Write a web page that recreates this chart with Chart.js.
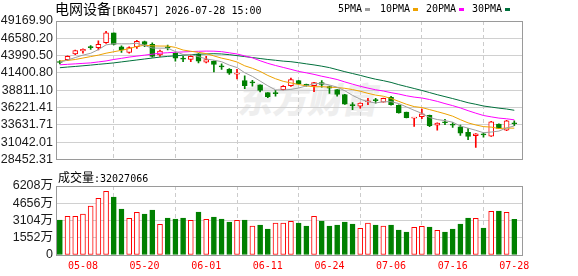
<!DOCTYPE html>
<html><head><meta charset="utf-8">
<script src="https://cdn.jsdelivr.net/npm/chart.js@4.4.1/dist/chart.umd.min.js"></script>
<style>
html,body{margin:0;padding:0;background:#fff;width:578px;height:276px;overflow:hidden;position:relative;}
canvas{position:absolute;left:0;}
.t{position:absolute;white-space:nowrap;color:#000;line-height:14px;}
.cjk{font-family:"Noto Sans CJK SC",sans-serif;}
.mono{font-family:"DejaVu Sans Mono",monospace;}
.sq{position:absolute;width:5px;height:3px;}
#wm{position:absolute;left:240px;top:72px;font-family:"Noto Sans CJK SC",sans-serif;font-weight:900;font-size:35px;color:#eeeeee;transform:skewX(-12deg);white-space:nowrap;}
</style></head><body>
<div id="wm">东方财富</div>
<canvas id="pc" width="578" height="170" style="top:0"></canvas>
<canvas id="vc" width="578" height="104" style="top:172px"></canvas>
<div class="t" style="left:55px;top:1px"><span class="cjk" style="font-size:14px">电网设备</span><span class="mono" style="font-size:10px">[BK0457] 2026-07-28 15:00</span></div>
<div class="t mono" style="left:338px;top:2px;font-size:10px">5PMA</div><div class="sq" style="left:365px;top:8px;background:#9e9e9e"></div>
<div class="t mono" style="left:380px;top:2px;font-size:10px">10PMA</div><div class="sq" style="left:413px;top:8px;background:#eea200"></div>
<div class="t mono" style="left:426px;top:2px;font-size:10px">20PMA</div><div class="sq" style="left:459px;top:8px;background:#ff00ff"></div>
<div class="t mono" style="left:472px;top:2px;font-size:10px">30PMA</div><div class="sq" style="left:505px;top:8px;background:#00703c"></div>
<div class="t" style="left:58px;top:170px"><span class="cjk" style="font-size:12px">成交量</span><span class="mono" style="font-size:10px">:32027066</span></div>
<script>
const dates = ['04-30','05-06','05-07','05-08','05-11','05-12','05-13','05-14','05-15','05-18','05-19','05-20','05-21','05-22','05-25','05-26','05-27','05-28','05-29','06-01','06-02','06-03','06-04','06-05','06-08','06-09','06-10','06-11','06-12','06-15','06-16','06-17','06-18','06-22','06-23','06-24','06-25','06-26','06-29','06-30','07-01','07-02','07-03','07-06','07-07','07-08','07-09','07-10','07-13','07-14','07-15','07-16','07-17','07-20','07-21','07-22','07-23','07-24','07-27','07-28'];
const open  = [43050,43383,44251,44685,45249,45177,45943,47390,45321,44453,45321,46088,45698,44106,45206,44352,43513,43440,44208,43007,43151,42355,41936,41213,40258,39968,39621,38464,38391,38898,39505,40258,39679,39505,39968,39361,38898,38174,36568,36423,37075,37407,37046,37740,36540,35527,34630,34847,35049,33603,34007,33632,33356,32531,32010,32185,31953,33747,32821,33863];
const high  = [43238,43962,44829,45003,45509,46190,47607,47390,45466,45321,46276,46160,45900,44829,45553,44424,43875,43962,44280,43875,43194,42761,42037,41936,40981,40301,39621,38464,38811,39505,40634,40301,39722,40011,40258,39433,38927,38203,36973,36930,37595,37595,37653,37914,36612,35527,34731,36004,35093,33935,34470,33978,33602,33110,32344,32445,34152,33791,34297,34224];
const low   = [42761,43238,44135,44352,44931,44829,45799,45582,44453,44352,45075,45321,43773,43875,44829,43151,43093,43093,42905,42905,41559,41936,41169,40489,39042,39433,38564,37696,37943,38854,39390,39722,39433,38608,39288,38319,37943,36684,35917,36148,36640,36872,37017,36582,35382,34659,33400,34557,33357,32821,33646,33255,32054,31432,30275,31808,31910,33066,32778,33501];
const close = [42963,43875,44742,44931,45191,45698,47390,45654,44829,45177,46132,45654,43875,44685,45148,43628,43455,43875,43151,43383,42659,42298,41357,41357,39505,39911,38782,37841,38304,39390,40402,39766,39462,39968,39679,39115,38174,36727,36510,36901,37147,37263,37595,36640,35426,34702,34731,35281,33501,33892,33949,33574,32387,31910,32300,32127,34080,33110,34224,33805];
const ma5  = [43007,43339,43701,44063,44338,44887,45597,45770,45755,45755,45842,45495,45133,45104,45104,44598,44164,44164,43846,43499,43310,43079,42572,42211,41429,40880,40185,39476,38868,38840,38941,39144,39462,39795,39853,39592,39274,38739,38044,37480,37089,36916,37089,37104,36814,36322,35816,35353,34731,34427,34268,34036,33458,33139,32821,32460,32561,32706,33169,33472];
const ma10 = [43195,43267,43412,43629,43846,44063,44352,44569,44786,45047,45365,45538,45452,45423,45423,45220,44829,44641,44482,44294,43947,43614,43368,43035,42471,42095,41632,41025,40533,40142,39911,39665,39476,39332,39346,39274,39216,39100,38912,38666,38348,38087,37914,37581,37147,36713,36366,36221,35917,35613,35295,34933,34412,33935,33617,33371,33299,33082,33154,33139];
const ma20 = [42616,42688,42761,42833,42905,43050,43195,43412,43585,43773,43918,44063,44207,44352,44424,44497,44540,44598,44641,44670,44656,44584,44410,44236,43947,43658,43224,42833,42515,42226,41936,41632,41415,41184,40909,40677,40417,40055,39722,39404,39129,38883,38695,38449,38246,37986,37784,37653,37422,37147,36814,36510,36163,35758,35382,35035,34832,34644,34543,34384];
const ma30 = [42182,42283,42370,42471,42573,42688,42790,42905,43050,43195,43339,43484,43629,43773,43875,43962,44063,44135,44207,44236,44280,44236,44135,43990,43846,43701,43556,43412,43296,43166,43079,42934,42761,42601,42413,42196,41893,41589,41314,41039,40735,40460,40243,39983,39650,39361,39071,38782,38464,38145,37856,37567,37263,36945,36713,36453,36294,36134,36004,35816];
const volume = [3149,3480,3480,3689,4408,5100,5731,5218,4139,3300,3839,3689,4049,2760,3329,3239,3329,3120,3869,3210,3419,3239,2969,3120,3149,2609,2699,2339,2879,2879,3030,2879,2609,3480,3059,2609,2699,2969,2789,2400,2879,2699,2609,2699,2249,2069,2490,2580,2519,2220,2069,2339,2789,3329,3300,2429,3929,3959,3839,3203];
const volumeUp = [0,1,1,1,1,1,1,0,0,1,1,0,0,1,0,0,0,1,0,1,0,0,0,1,0,1,0,0,1,1,1,0,0,1,0,0,0,0,0,1,1,0,1,0,0,0,1,1,0,1,0,0,0,0,1,0,1,0,1,0];
const priceTicks = [28452.31,31042.01,33631.71,36221.41,38811.10,41400.80,43990.50,46580.20,49169.90];
const priceTickLabels = ['28452.31','31042.01','33631.71','36221.41','38811.10','41400.80','43990.50','46580.20','49169.90'];
const volTicks = [0,1552,3104,4656,6208];
const volTickLabels = ['0','1552万','3104万','4656万','6208万'];
const xTickIndex = [3,11,19,27,35,43,51,59];

const RED = '#ff0000', GREEN = '#008000';
const idx = dates.map((d, i) => i);
const candleColor = idx.map(i => close[i] > open[i] ? RED : GREEN);
const candleFill = idx.map(i => close[i] > open[i] ? '#ffffff' : GREEN);
const volColor = volumeUp.map(u => u ? RED : GREEN);
const volFill = volumeUp.map(u => u ? '#ffffff' : GREEN);

const frame = {
  id: 'frame',
  beforeDatasetsDraw(chart) {
    const {ctx, chartArea: a} = chart;
    const L = Math.round(a.left - 0.5) + 0.5, R = Math.round(a.right - 0.5) + 0.5;
    const T = Math.round(a.top - 0.5) + 0.5, B = Math.round(a.bottom - 0.5) + 0.5;
    ctx.save(); ctx.strokeStyle = '#9a9a9a'; ctx.lineWidth = 1;
    ctx.strokeRect(L, T, R - L, B - T); ctx.restore();
  }
};
const axisFont = {family: '"Liberation Sans", "Noto Sans CJK SC", sans-serif', size: 12.5};

function xAxis(showLabels, h) {
  return {
    type: 'linear', min: -0.5, max: 60, offset: false,
    afterBuildTicks: s => { s.ticks = xTickIndex.map(v => ({value: v})); },
    afterFit: s => { s.height = h; },
    grid: {color: '#cccccc', drawTicks: false},
    border: {display: false, dash: [4, 3]},
    ticks: {display: showLabels, autoSkip: false, maxRotation: 0, padding: 5, color: RED,
      font: {family: '"DejaVu Sans Mono", monospace', size: 10},
      callback: v => dates[v]}
  };
}
const common = {
  responsive: false, animation: false, events: [],
  plugins: {legend: {display: false}, tooltip: {enabled: false}}
};

new Chart(document.getElementById('pc'), {
  type: 'bar',
  data: {datasets: [
    {type: 'line', data: idx.map(i => ({x: i, y: ma5[i]})), borderColor: '#9e9e9e', borderWidth: 1, pointRadius: 0, order: 0},
    {type: 'line', data: idx.map(i => ({x: i, y: ma10[i]})), borderColor: '#eea200', borderWidth: 1, pointRadius: 0, order: 0},
    {type: 'line', data: idx.map(i => ({x: i, y: ma20[i]})), borderColor: '#ff00ff', borderWidth: 1, pointRadius: 0, order: 0},
    {type: 'line', data: idx.map(i => ({x: i, y: ma30[i]})), borderColor: '#00703c', borderWidth: 1, pointRadius: 0, order: 0},
    {data: idx.map(i => ({x: i, y: [open[i], close[i]]})), backgroundColor: candleFill, borderColor: candleColor,
      borderWidth: 1, borderSkipped: false, barThickness: 5, grouped: false, minBarLength: 1, order: 1},
    {data: idx.map(i => ({x: i, y: [low[i], high[i]]})), backgroundColor: candleColor, borderWidth: 0,
      barThickness: 1, grouped: false, order: 2}
  ]},
  options: Object.assign({}, common, {
    layout: {padding: {top: 21, bottom: 5, left: 0, right: 56}},
    scales: {
      x: xAxis(false, 0),
      y: {
        min: priceTicks[0], max: priceTicks[priceTicks.length - 1],
        afterBuildTicks: s => { s.ticks = priceTicks.map(v => ({value: v})); },
        afterFit: s => { s.width = 56; },
        grid: {color: '#d0d0d0', drawTicks: false},
        border: {display: false},
        ticks: {padding: 3, color: '#1a1a1a', font: axisFont, autoSkip: false,
          callback: v => priceTickLabels[priceTicks.indexOf(v)]}
      }
    }
  }),
  plugins: [frame]
});

new Chart(document.getElementById('vc'), {
  type: 'bar',
  data: {datasets: [
    {data: idx.map(i => ({x: i, y: volume[i]})), backgroundColor: volFill, borderColor: volColor,
      borderWidth: 1, borderSkipped: false, barThickness: 5, grouped: false}
  ]},
  options: Object.assign({}, common, {
    layout: {padding: {top: 14, bottom: 0, left: 0, right: 56}},
    scales: {
      x: xAxis(true, 21),
      y: {
        min: 0, max: 6208,
        afterBuildTicks: s => { s.ticks = volTicks.map(v => ({value: v})); },
        afterFit: s => { s.width = 56; },
        grid: {color: '#d0d0d0', drawTicks: false},
        border: {display: false},
        ticks: {padding: 3, color: '#1a1a1a', font: axisFont, autoSkip: false,
          callback: v => volTickLabels[volTicks.indexOf(v)]}
      }
    }
  }),
  plugins: [frame]
});
</script>
</body></html>
